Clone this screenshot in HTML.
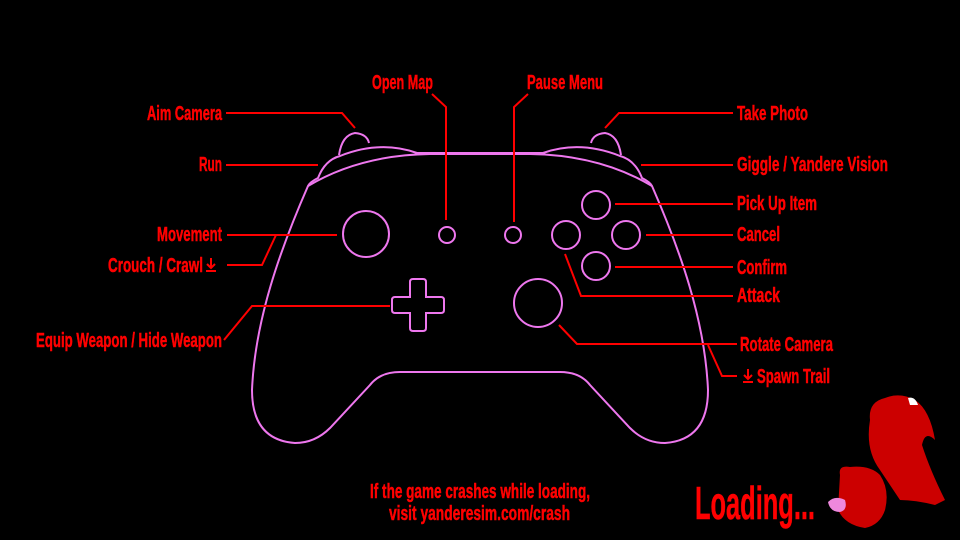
<!DOCTYPE html>
<html><head><meta charset="utf-8"><style>
html,body{margin:0;padding:0;background:#000;}
svg{display:block}
text{font-family:"Liberation Sans Narrow","Liberation Sans",sans-serif;font-weight:bold;fill:#ff0000;stroke:#ff0000;stroke-width:0.5;font-size:20px}
</style></head><body>
<svg width="960" height="540" viewBox="0 0 960 540" xmlns="http://www.w3.org/2000/svg">
<rect width="960" height="540" fill="#000"/>
<g fill="none" stroke="#ee77ee" stroke-width="2">
<path d="M318,178 Q325,160 340,156 Q380,140 417,153 L543,153 Q580,140 620,156 Q635,160 642,178 Q650,182 652,186 C680,250 705,320 708,390 Q708,440 665,443 Q645,443 630,428 L590,385 Q580,372 560,372 L400,372 Q380,372 370,385 L330,428 Q315,443 295,443 Q252,440 252,390 C255,320 280,250 308,186 Q310,182 318,178 Z"/>
<path d="M308,186 Q360,155 430,154 L530,154 Q600,155 652,186"/>
<path d="M339,155 Q342,135 355,133 Q367,134 369,143"/>
<path d="M621,155 Q618,135 605,133 Q593,134 591,143"/>
<circle cx="366" cy="234" r="23"/>
<circle cx="538" cy="303" r="24"/>
<circle cx="447" cy="235" r="8"/>
<circle cx="513" cy="235" r="8"/>
<circle cx="596" cy="205" r="14"/>
<circle cx="566" cy="235" r="14"/>
<circle cx="626" cy="235" r="14"/>
<circle cx="596" cy="266" r="14"/>
<path d="M413,279 h10 q3,0 3,3 v15 h15 q3,0 3,3 v10 q0,3 -3,3 h-15 v15 q0,3 -3,3 h-10 q-3,0 -3,-3 v-15 h-15 q-3,0 -3,-3 v-10 q0,-3 3,-3 h15 v-15 q0,-3 3,-3 z"/>
</g>
<g fill="none" stroke="#ff0000" stroke-width="2">
<path d="M226,113 H342 L355,128"/>
<path d="M226,165 H318"/>
<path d="M227,235 H337"/>
<path d="M227,265 H262 L276,235"/>
<path d="M224,340 L252,306 H390"/>
<path d="M432,94 L446,107 V220"/>
<path d="M528,94 L514,107 V222"/>
<path d="M733,113 H619 L605,128"/>
<path d="M733,165 H641"/>
<path d="M733,204 H615"/>
<path d="M733,235 H646"/>
<path d="M733,267 H615"/>
<path d="M733,296 H581 L565,254"/>
<path d="M737,344 H577 L559,325"/>
<path d="M708,345 L722,376 H737"/>
<path d="M211,258 V268 M207,264 L211,268 L215,264 M206,271 H216"/>
<path d="M748,369 V379 M744,375 L748,379 L752,375 M743,382 H753"/>
</g>
<g>
<text x="147" y="120" textLength="75" lengthAdjust="spacingAndGlyphs">Aim Camera</text>
<text x="199" y="171" textLength="23" lengthAdjust="spacingAndGlyphs">Run</text>
<text x="157" y="241" textLength="65" lengthAdjust="spacingAndGlyphs">Movement</text>
<text x="108" y="272" textLength="95" lengthAdjust="spacingAndGlyphs">Crouch / Crawl</text>
<text x="36" y="347" textLength="186" lengthAdjust="spacingAndGlyphs">Equip Weapon / Hide Weapon</text>
<text x="372" y="89" textLength="61" lengthAdjust="spacingAndGlyphs">Open Map</text>
<text x="527" y="89" textLength="76" lengthAdjust="spacingAndGlyphs">Pause Menu</text>
<text x="737" y="120" textLength="71" lengthAdjust="spacingAndGlyphs">Take Photo</text>
<text x="737" y="171" textLength="151" lengthAdjust="spacingAndGlyphs">Giggle / Yandere Vision</text>
<text x="737" y="210" textLength="80" lengthAdjust="spacingAndGlyphs">Pick Up Item</text>
<text x="737" y="241" textLength="43" lengthAdjust="spacingAndGlyphs">Cancel</text>
<text x="737" y="274" textLength="50" lengthAdjust="spacingAndGlyphs">Confirm</text>
<text x="737" y="302" textLength="43" lengthAdjust="spacingAndGlyphs">Attack</text>
<text x="740" y="351" textLength="93" lengthAdjust="spacingAndGlyphs">Rotate Camera</text>
<text x="757" y="383" textLength="73" lengthAdjust="spacingAndGlyphs">Spawn Trail</text>
<text x="370" y="498" textLength="220" lengthAdjust="spacingAndGlyphs">If the game crashes while loading,</text>
<text x="389" y="520" textLength="181" lengthAdjust="spacingAndGlyphs">visit yanderesim.com/crash</text>
<text x="695" y="519" textLength="120" lengthAdjust="spacingAndGlyphs" style="font-size:46px">Loading...</text>
</g>
<g fill="#cc0000">
<path d="M870,420 Q868,402 885,398 Q900,392 915,400 Q930,410 935,440 Q925,430 922,445 Q930,470 945,500 L935,505 Q915,500 900,500 L880,470 Q865,450 870,420 Z"/>
<path d="M840,475 Q838,465 850,467 Q870,465 880,475 Q890,490 885,510 Q880,525 865,528 Q845,525 838,510 Z"/>
</g>
<path d="M828,502 Q835,495 845,500 Q848,510 840,512 Q830,512 828,502 Z" fill="#ee88dd"/>
<path d="M908,398 Q915,396 918,405 L910,405 Z" fill="#ffffff"/>
</svg>
</body></html>
